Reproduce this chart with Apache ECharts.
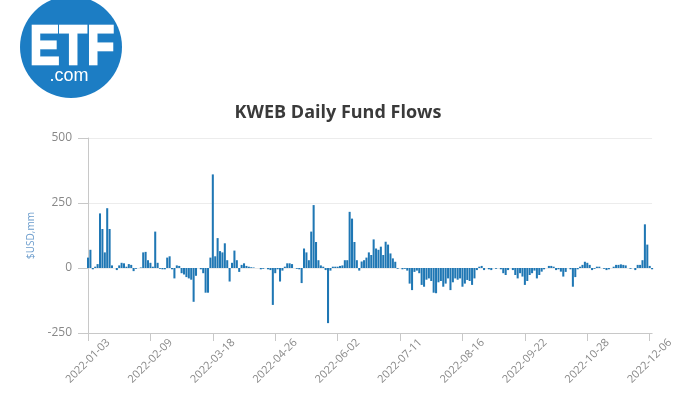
<!DOCTYPE html>
<html>
<head>
<meta charset="utf-8">
<script src="https://cdn.jsdelivr.net/npm/echarts@6/dist/echarts.min.js"></script>
<style>
  html, body { margin: 0; padding: 0; background: #fff; }
  #main { width: 676px; height: 397px; }
</style>
</head>
<body>
<div id="main"></div>
<script>
// trading days of 2022 shown on the axis, one list per month
var monthDays = [
    [3,4,5,6,7,10,11,12,13,14,18,19,20,21,24,25,26,27,28,31],
    [1,2,3,4,7,8,9,10,11,14,15,16,17,18,22,23,24,25,28],
    [1,2,3,4,7,8,9,10,11,14,15,16,17,18,21,22,23,24,25,28,29,30,31],
    [1,4,5,6,7,8,11,12,13,14,18,19,20,21,22,25,26,27,28,29],
    [2,3,4,5,6,9,10,11,12,13,16,17,18,19,20,23,24,25,26,27,31],
    [1,2,3,6,7,8,9,10,13,14,15,16,17,20,21,22,23,24,27,28,29,30],
    [1,5,6,7,8,11,12,13,14,15,18,19,20,21,22,25,26,27,28,29],
    [1,2,3,4,5,8,9,10,11,12,15,16,17,18,19,22,23,24,25,26,29,30,31],
    [1,2,6,7,8,9,12,13,14,15,16,19,20,21,22,23,26,27,28,29,30],
    [3,4,5,6,7,10,11,12,13,14,17,18,19,20,21,24,25,26,27,28,31],
    [1,2,3,4,7,8,9,10,11,14,15,16,17,18,21,22,23,25,28,29,30],
    [1,2,5,6,7]
];

// daily flows, $USD mm, same order as monthDays
var flowsJan = [40,70,-5,5,15,210,150,60,230,150,10,0,-8,10,20,18,5,15,12,-12];
var flowsFeb = [-3,0,2,60,62,30,20,5,140,20,-3,-5,-5,40,45,-5,-40,10,8];
var flowsMar = [-20,-25,-35,-40,-45,-130,-30,0,-5,-20,-95,-95,40,360,45,115,65,60,95,30,-52,20,67];
var flowsApr = [30,-15,12,18,8,5,3,2,0,0,-5,-3,0,-5,-8,-142,-20,-5,-52,-10];
var flowsMay = [5,18,18,15,0,-3,-5,-58,75,60,30,140,242,100,30,10,5,-8,-212,-10,5];
var flowsJun = [5,5,8,10,30,30,216,190,100,30,-10,25,30,40,60,50,110,75,70,82,50,101];
var flowsJul = [90,56,37,24,-3,0,-5,-3,-10,-60,-85,-15,-10,-20,-65,-72,-45,-40,-50,-95];
var flowsAug = [-97,-55,-50,-72,-60,-40,-85,-55,-40,-45,-40,-72,-60,-46,-50,-65,-40,-8,5,8,-8,0,-5];
var flowsSep = [-8,0,-3,0,-5,-20,-27,-8,0,-8,-27,-40,-20,-33,-65,-50,-27,-20,-10,-40,-27];
var flowsOct = [-14,-5,0,8,8,5,-8,-5,-14,-33,-15,0,-5,-72,-35,-5,5,12,24,20,12];
var flowsNov = [-8,-3,5,5,0,-3,-8,-5,0,5,12,12,14,12,10,0,-3,0,-8,12,12];
var flowsDec = [30,168,90,8,-5];

var yTicks = [-250, 0, 250, 500];

var dates = [];
monthDays.forEach(function (days, m) {
    days.forEach(function (d) {
        dates.push('2022-' + String(m + 1).padStart(2, '0') + '-' + String(d).padStart(2, '0'));
    });
});
var flows = [].concat(flowsJan, flowsFeb, flowsMar, flowsApr, flowsMay, flowsJun,
                      flowsJul, flowsAug, flowsSep, flowsOct, flowsNov, flowsDec);

var myChart = echarts.init(document.getElementById('main'));

var option = {
    backgroundColor: '#fff',
    animation: false,
    textStyle: { fontFamily: 'Open Sans' },
    title: {
        text: 'KWEB Daily Fund Flows',
        left: 'center',
        top: 99,
        textStyle: { fontSize: 18, fontWeight: 'bold', color: '#3a3a3a', fontFamily: 'Open Sans' }
    },
    graphic: [
        {
            type: 'circle',
            shape: { cx: 71, cy: 47, r: 51 },
            style: { fill: '#1c7dc4' }
        },
        {
            type: 'text',
            x: 72, y: 49,
            scaleX: 0.8,
            style: {
                text: 'ETF', fill: '#fff', align: 'center', verticalAlign: 'middle',
                stroke: '#fff', lineWidth: 2.5,
                font: 'bold 56px "Liberation Sans"'
            }
        },
        {
            type: 'text',
            x: 69, y: 76,
            style: {
                text: '.com', fill: '#fff', align: 'center', verticalAlign: 'middle',
                font: '18px "Liberation Sans"'
            }
        }
    ],
    grid: { left: 88, right: 19, top: 138, bottom: 64 },
    xAxis: {
        type: 'category',
        data: dates,
        boundaryGap: false,
        axisLine: { onZero: false, lineStyle: { color: '#c8c8c8' } },
        axisTick: { interval: 25, length: 8, lineStyle: { color: '#c8c8c8' } },
        axisLabel: {
            interval: 25,
            rotate: 45,
            align: 'center',
            verticalAlign: 'middle',
            margin: 28,
            fontSize: 11,
            color: '#888'
        },
        splitLine: { show: false }
    },
    yAxis: {
        type: 'value',
        min: yTicks[0],
        max: yTicks[yTicks.length - 1],
        interval: 250,
        name: '$USD,mm',
        nameLocation: 'middle',
        nameGap: 52,
        nameTextStyle: { color: '#6b9ccc', fontSize: 10 },
        axisLine: { show: true, lineStyle: { color: '#c8c8c8' } },
        axisTick: { show: true, length: 10, lineStyle: { color: '#c8c8c8' } },
        axisLabel: { fontSize: 12, color: '#888', margin: 16 },
        splitLine: { lineStyle: { color: '#ececec' } }
    },
    series: [
        {
            type: 'bar',
            data: flows,
            barCategoryGap: '15%',
            itemStyle: { color: '#1f77b4' }
        }
    ]
};

myChart.setOption(option);
</script>
</body>
</html>
